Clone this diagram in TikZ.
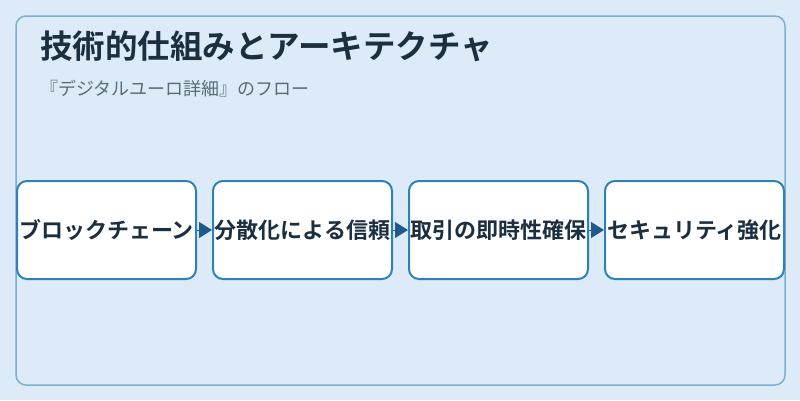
\documentclass[tikz,border=0pt]{standalone}
\usepackage{fontspec}
\setmainfont{Noto Sans CJK JP}[BoldFont={Noto Sans CJK JP Bold}]
\usetikzlibrary{positioning,arrows.meta}

\definecolor{pagebg}{HTML}{DCEBF7}
\definecolor{panelline}{HTML}{7AB0D4}
\definecolor{boxline}{HTML}{2E80B9}
\definecolor{arrowblue}{HTML}{1F5A8C}
\definecolor{titletext}{HTML}{1B2F40}
\definecolor{subtext}{HTML}{5A6B7A}

\tikzset{
flowbox/.style={draw=boxline, line width=2pt, fill=white, rounded corners=10pt,
  minimum width=179pt, minimum height=98pt, inner sep=0pt,
  font=\fontsize{22}{26}\selectfont\bfseries, text=titletext},
flowarrow/.style={-{Triangle[length=13pt,width=16pt]}, draw=arrowblue, line width=1pt}
}

\newcommand{\flowstep}[3]{%
\node[flowbox, right=15pt of #1] (#2) {#3};
}

\begin{document}
\begin{tikzpicture}[x=1pt,y=-1pt]

\fill[pagebg] (0,0) rectangle (800,400);
\useasboundingbox (0,0) rectangle (800,400);

% panel
\draw[panelline, fill=pagebg, line width=1.5pt, rounded corners=10pt] (16,16) rectangle (785,385);

\node[anchor=west, inner sep=0pt, font=\fontsize{32.5}{38}\selectfont\bfseries, text=titletext] (title) at (40,46) {技術的仕組みとアーキテクチャ};
\node[anchor=west, inner sep=0pt, font=\fontsize{18}{22}\selectfont, text=subtext] (subtitle) at (40,89) {『デジタルユーロ詳細』のフロー};

% flow
\node[flowbox] (chain) at (106.5,230) {ブロックチェーン};
\flowstep{chain}{trust}{分散化による信頼}
\flowstep{trust}{instant}{取引の即時性確保}
\flowstep{instant}{security}{セキュリティ強化}

\draw[flowarrow] (chain) -- (trust);
\draw[flowarrow] (trust) -- (instant);
\draw[flowarrow] (instant) -- (security);

\end{tikzpicture}
\end{document}
